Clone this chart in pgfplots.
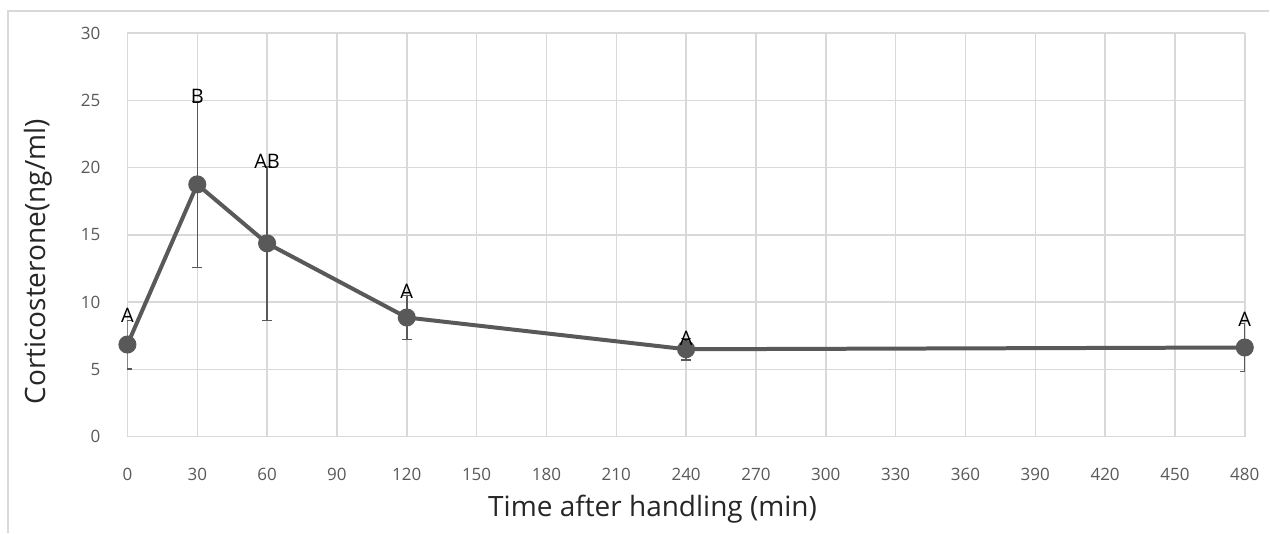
\documentclass[border=0pt]{standalone}
\usepackage{pgfplots}
\pgfplotsset{compat=1.18}
\usepackage{fontspec}
\setmainfont{Open Sans}[Ligatures=NoCommon]
\definecolor{serie}{HTML}{595959}
\definecolor{gridc}{HTML}{D9D9D9}
\definecolor{txt}{HTML}{595959}
% half caps for the error bars at the edges of the plot area
\pgfdeclareplotmark{capR}{\pgfpathmoveto{\pgfpoint{0pt}{0pt}}\pgfpathlineto{\pgfpoint{\pgfplotmarksize}{0pt}}\pgfusepathqstroke}
\pgfdeclareplotmark{capL}{\pgfpathmoveto{\pgfpoint{0pt}{0pt}}\pgfpathlineto{\pgfpoint{-\pgfplotmarksize}{0pt}}\pgfusepathqstroke}
\begin{document}
\begin{tikzpicture}
\path (0,0) rectangle (635bp,266.5bp);
\draw[gridc, line width=0.75bp] (4bp,0) -- (4bp,261bp) -- (635bp,261bp);
\begin{axis}[
  at={(63.75bp,48bp)}, anchor=origin,
  scale only axis,
  width=559bp, height=202bp,
  xmin=0, xmax=480, ymin=0, ymax=30,
  enlargelimits=false,
  xtick distance=30, ytick distance=5,
  grid=major,
  major grid style={gridc, line width=0.75bp},
  axis line style={draw=none},
  major tick length=0pt,
  clip mode=individual,
  /pgf/number format/assume math mode=true,
  ticklabel style={font=\fontsize{8.5bp}{10bp}\selectfont, text=txt},
  xticklabel style={anchor=center, yshift=-19bp},
  yticklabel style={anchor=east, xshift=-10bp},
  label style={font=\fontsize{14bp}{16bp}\selectfont, text=black!85},
  xlabel={Time after handling (min)},
  ylabel={Corticosterone(ng/ml)},
  xlabel style={at={(rel axis cs:0.47,0)}, anchor=center, yshift=-36bp},
  ylabel style={at={(rel axis cs:-0.08,0.433)}, anchor=center},
]
% error bars, inner points
\addplot[draw=none, mark=none,
  error bars/.cd, y dir=both, y explicit,
  error bar style={serie, line width=0.75bp},
  error mark options={rotate=90, mark size=2.5bp, serie, line width=0.75bp}]
coordinates {
  (30,18.75) +- (0,6.17)
  (60,14.37) +- (0,5.72)
  (120,8.86) +- (0,1.62)
  (240,6.50) +- (0,0.80)
};
% error bars at the edges: no caps here, half caps below
\addplot[draw=none, mark=none,
  error bars/.cd, y dir=both, y explicit, error mark=none,
  error bar style={serie, line width=0.75bp}]
coordinates {
  (0,6.85)   +- (0,1.80)
  (480,6.63) +- (0,1.77)
};
\addplot[only marks, mark=capR, mark size=2.5bp, serie, line width=0.75bp]
coordinates {(0,5.05) (0,8.65)};
\addplot[only marks, mark=capL, mark size=2.5bp, serie, line width=0.75bp]
coordinates {(480,4.86) (480,8.40)};
\addplot[serie, line width=2bp, mark=*, mark size=3.5bp,
  mark options={fill=serie, draw=serie}]
coordinates {
  (0,6.85)
  (30,18.75)
  (60,14.37)
  (120,8.86)
  (240,6.50)
  (480,6.63)
};
\addplot[draw=none, mark=none, nodes near coords,
  point meta=explicit symbolic,
  nodes near coords style={anchor=south, inner sep=0pt, yshift=-1.5bp,
    font=\fontsize{10bp}{12bp}\selectfont, text=black}]
coordinates {
  (0,8.65)[A]
  (30,24.92)[B]
  (60,20.09)[AB]
  (120,10.48)[A]
  (240,7.0)[A]
  (480,8.4)[A]
};
\end{axis}
\end{tikzpicture}
\end{document}
